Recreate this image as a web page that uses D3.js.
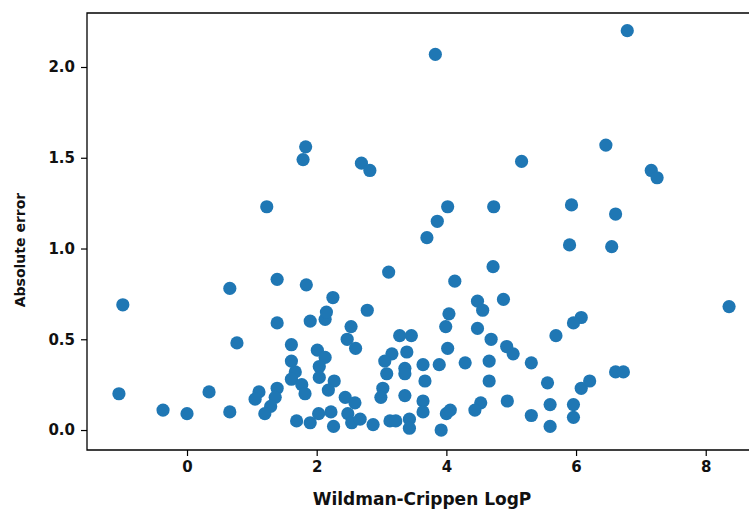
<!DOCTYPE html>
<meta charset="utf-8">
<style>
    body { margin: 0; background: #fff; }
    svg { display: block; }
    .axis text { font-family: "DejaVu Sans", sans-serif; font-size: 15px; font-weight: bold; fill: #111; }
    .axis line { stroke: #000; stroke-width: 1.2; }
    .axis path { display: none; }
    .label { font-family: "DejaVu Sans", sans-serif; font-weight: bold; fill: #111; }
    .spine { stroke: #000; stroke-width: 1.3; fill: none; }
    .dot { fill: #1f77b4; }
</style>
<svg width="749" height="510"></svg>
<script src="https://d3js.org/d3.v7.min.js"></script>
<script>

    // Wildman-Crippen LogP (x) and absolute error (y)
    var logP = [
        -0.99, -1.05, -0.37, 0.00, 0.34, 0.66, 0.66, 0.77, 1.23, 1.39,
        1.39, 1.83, 1.79, 1.84, 1.11, 1.05, 1.39, 1.36, 1.29, 1.20,
        1.61, 1.61, 1.67, 1.61, 1.77, 1.82, 1.69, 1.90, 2.01, 2.13,
        2.04, 2.04, 2.03, 2.22, 2.27, 2.18, 2.26, 1.90, 2.13, 2.15,
        2.25, 2.53, 2.47, 2.60, 2.78, 3.11, 2.44, 2.59, 2.48, 2.54,
        2.67, 2.87, 3.28, 3.46, 3.16, 3.05, 3.39, 3.08, 3.36, 3.36,
        3.64, 3.89, 3.67, 3.02, 2.99, 3.36, 3.64, 3.64, 3.13, 3.22,
        3.43, 3.43, 3.92, 4.00, 4.06, 3.70, 3.83, 4.02, 3.86, 4.13,
        4.04, 3.99, 4.02, 4.48, 4.56, 4.88, 4.72, 4.48, 4.69, 4.93,
        5.03, 4.29, 4.66, 4.66, 4.53, 4.44, 4.94, 4.73, 5.16, 5.31,
        5.56, 5.60, 5.31, 5.60, 5.69, 5.90, 5.93, 6.46, 6.55, 6.61,
        6.79, 7.16, 7.25, 8.36, 6.08, 5.96, 6.08, 6.21, 6.61, 6.73,
        5.96, 5.96, 2.69, 2.82
    ];
    var absError = [
        0.69, 0.20, 0.11, 0.09, 0.21, 0.10, 0.78, 0.48, 1.23, 0.83,
        0.59, 1.56, 1.49, 0.80, 0.21, 0.17, 0.23, 0.18, 0.13, 0.09,
        0.47, 0.38, 0.32, 0.28, 0.25, 0.20, 0.05, 0.04, 0.44, 0.40,
        0.35, 0.29, 0.09, 0.10, 0.27, 0.22, 0.02, 0.60, 0.61, 0.65,
        0.73, 0.57, 0.50, 0.45, 0.66, 0.87, 0.18, 0.15, 0.09, 0.04,
        0.06, 0.03, 0.52, 0.52, 0.42, 0.38, 0.43, 0.31, 0.34, 0.31,
        0.36, 0.36, 0.27, 0.23, 0.18, 0.19, 0.16, 0.10, 0.05, 0.05,
        0.06, 0.01, 0.00, 0.09, 0.11, 1.06, 2.07, 1.23, 1.15, 0.82,
        0.64, 0.57, 0.45, 0.71, 0.66, 0.72, 0.90, 0.56, 0.50, 0.46,
        0.42, 0.37, 0.38, 0.27, 0.15, 0.11, 0.16, 1.23, 1.48, 0.37,
        0.26, 0.14, 0.08, 0.02, 0.52, 1.02, 1.24, 1.57, 1.01, 1.19,
        2.20, 1.43, 1.39, 0.68, 0.62, 0.59, 0.23, 0.27, 0.32, 0.32,
        0.14, 0.07, 1.47, 1.43
    ];
    var xTicks = [0, 2, 4, 6, 8];
    var yTicks = [0.0, 0.5, 1.0, 1.5, 2.0];

    var svg = d3.select("svg"),
        margin = {top: 13, left: 87, bottom: 450, right: 761};

    var x = d3.scaleLinear().domain([-1.5425, 8.8525]).range([margin.left, margin.right]),
        y = d3.scaleLinear().domain([-0.110, 2.2975]).range([margin.bottom, margin.top]);

    var data = logP.map(function(d, i) { return {x: d, y: absError[i]}; });

    svg.selectAll(".dot")
        .data(data)
        .enter().append("circle")
        .attr("class", "dot")
        .attr("cx", function(d) { return x(d.x); })
        .attr("cy", function(d) { return y(d.y); })
        .attr("r", 6.6);

    // spines
    svg.append("path")
        .attr("class", "spine")
        .attr("d", "M" + margin.right + "," + margin.top + "H" + margin.left +
            "V" + margin.bottom + "H" + margin.right + "Z");

    svg.append("g")
        .attr("class", "axis axis--x")
        .attr("transform", "translate(0," + margin.bottom + ")")
        .call(d3.axisBottom(x).tickValues(xTicks).tickFormat(d3.format("d")).tickSize(6).tickPadding(5));

    svg.append("g")
        .attr("class", "axis axis--y")
        .attr("transform", "translate(" + margin.left + ",0)")
        .call(d3.axisLeft(y).tickValues(yTicks).tickFormat(d3.format(".1f")).tickSize(6).tickPadding(6));

    svg.append("text")
        .attr("class", "label")
        .attr("x", (margin.left + margin.right) / 2 - 2)
        .attr("y", 505)
        .attr("text-anchor", "middle")
        .style("font-size", "17px")
        .text("Wildman-Crippen LogP");

    svg.append("text")
        .attr("class", "label")
        .attr("transform", "translate(25," + 250 + ") rotate(-90)")
        .attr("text-anchor", "middle")
        .style("font-size", "14px")
        .text("Absolute error");

</script>
